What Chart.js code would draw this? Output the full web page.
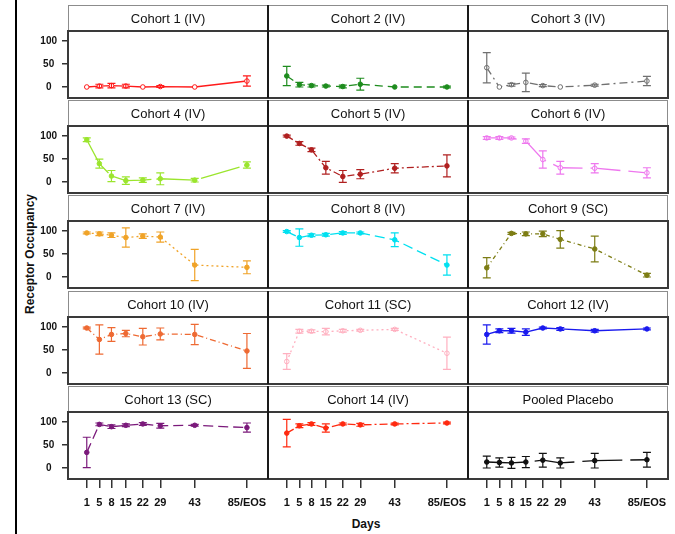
<!DOCTYPE html>
<html>
<head>
<meta charset="utf-8">
<script src="https://cdn.jsdelivr.net/npm/chart.js@4.4.1/dist/chart.umd.min.js"></script>
<style>
body { margin: 0; background: #fff; font-family: "Liberation Sans", Arial, sans-serif; }
#page { position: relative; width: 675px; height: 534px; overflow: hidden; }
.panel { position: absolute; }
.lbl { position: absolute; font-weight: bold; font-size: 12px; color: #111; text-align: center; white-space: nowrap; }
</style>
</head>
<body>
<div id="page">
  <div style="position:absolute;left:15px;top:0;width:2px;height:534px;background:#000"></div>
  <div class="lbl" style="left:-70px;top:247px;width:200px;transform:rotate(-90deg)">Receptor Occupancy</div>
  <div class="lbl" style="left:326px;top:517px;width:80px">Days</div>
</div>
<script>
// nominal study days, where each one sits on the axis, and its label
var dayLabels = ['1', '5', '8', '15', '22', '29', '43', '85/EOS'];
var dayPos = [1, 5.9, 10.6, 16.2, 22.8, 29.6, 43, 63.3];
var yTicks = [0, 50, 100];

var titles = ['Cohort 1 (IV)', 'Cohort 2 (IV)', 'Cohort 3 (IV)',
              'Cohort 4 (IV)', 'Cohort 5 (IV)', 'Cohort 6 (IV)',
              'Cohort 7 (IV)', 'Cohort 8 (IV)', 'Cohort 9 (SC)',
              'Cohort 10 (IV)', 'Cohort 11 (SC)', 'Cohort 12 (IV)',
              'Cohort 13 (SC)', 'Cohort 14 (IV)', 'Pooled Placebo'];

// mean receptor occupancy (%) per day
var means = [
  [0, 2, 3, 2, 0, 1, 0, 13],
  [24, 5, 3, 2, 1, 6, 0, 0],
  [42, 0, 5, 10, 3, 0, 4, 13],
  [92, 40, 13, 3, 4, 7, 4, 37],
  [100, 84, 70, 31, 12, 17, 30, 35],
  [96, 96, 96, 89, 49, 31, 30, 20],
  [96, 94, 91, 86, 89, 87, 26, 21],
  [99, 86, 91, 92, 96, 96, 81, 26],
  [20, null, 95, 94, 94, 82, 61, 4],
  [98, 73, 84, 86, 79, 85, 84, 48],
  [25, 91, 91, 90, 92, 93, 95, 43],
  [84, 92, 92, 89, 98, 96, 92, 96],
  [34, 95, 90, 93, 96, 92, 93, 88],
  [76, 92, 96, 87, 96, 94, 96, 98],
  [13, 12, 11, 13, 17, 11, 16, 18]
];
// error bar half widths
var errs = [
  [0, 4, 5, 4, 0, 2, 0, 11],
  [21, 5, 3, 2, 3, 13, 0, 2],
  [33, 0, 3, 20, 2, 0, 2, 10],
  [4, 10, 12, 8, 5, 13, 4, 7],
  [2, 4, 4, 14, 13, 10, 10, 24],
  [3, 3, 2, 5, 19, 14, 10, 11],
  [2, 4, 5, 21, 5, 11, 34, 14],
  [2, 19, 3, 3, 3, 2, 15, 22],
  [22, null, 2, 4, 6, 19, 28, 4],
  [2, 32, 15, 7, 18, 13, 22, 38],
  [17, 4, 3, 7, 3, 2, 2, 35],
  [21, 4, 5, 7, 2, 3, 3, 2],
  [33, 3, 4, 3, 3, 5, 2, 10],
  [30, 4, 3, 9, 2, 3, 2, 2],
  [13, 10, 12, 12, 15, 11, 16, 16]
];

var colors = ['#ff1a1a', '#1e8c1e', '#707070', '#9be52e', '#b02020', '#ee77ee', '#f0a328', '#00e0f0',
              '#7d7d14', '#ee6a33', '#ffb0c0', '#1a1aee', '#7b1a7b', '#ff2a10', '#111111'];
var dashes = [[], [8, 5], [8, 4, 2, 4], [40, 5], [7, 3, 2, 3], [30, 8], [2, 3], [10, 5],
              [4, 3, 1, 3], [6, 3, 1, 3], [2, 3], [], [10, 5], [8, 3, 2, 3], [40, 8]];
var openMarker = [true, false, true, false, false, true, false, false, false, false, true, false, false, false, false];

var rowTop = [5, 100, 195, 291, 386];
var tickFont = { family: '"Liberation Sans", Arial', weight: 'bold' };

var errorBars = {
    id: 'errorBars',
    afterDatasetsDraw: function (chart) {
        var ctx = chart.ctx;
        var ys = chart.scales.y;
        chart.data.datasets.forEach(function (ds, k) {
            var meta = chart.getDatasetMeta(k);
            ctx.save();
            ctx.strokeStyle = ds.borderColor;
            ctx.lineWidth = 1.2;
            meta.data.forEach(function (pt, j) {
                var d = ds.data[j];
                if (!d.e) return;
                var top = ys.getPixelForValue(d.y + d.e);
                var bot = ys.getPixelForValue(d.y - d.e);
                ctx.beginPath();
                ctx.moveTo(pt.x, top); ctx.lineTo(pt.x, bot);
                ctx.moveTo(pt.x - 4, top); ctx.lineTo(pt.x + 4, top);
                ctx.moveTo(pt.x - 4, bot); ctx.lineTo(pt.x + 4, bot);
                ctx.stroke();
            });
            ctx.restore();
        });
    }
};

var panelFrame = {
    id: 'panelFrame',
    beforeDraw: function (chart, args, opts) {
        var a = chart.chartArea, ctx = chart.ctx;
        ctx.save();
        ctx.strokeStyle = '#8c8c8c';
        ctx.lineWidth = 1;
        ctx.strokeRect(a.left + 0.5, 0.5, a.right - a.left - 1, a.top);
        ctx.fillStyle = '#111';
        ctx.font = '13px "Liberation Sans", Arial';
        ctx.textAlign = 'center';
        ctx.textBaseline = 'middle';
        ctx.fillText(opts.text, (a.left + a.right) / 2, a.top / 2 + 1);
        ctx.restore();
    },
    afterDraw: function (chart, args, opts) {
        var a = chart.chartArea, ctx = chart.ctx;
        ctx.save();
        ctx.strokeStyle = '#3a3a3a';
        ctx.lineWidth = 2;
        ctx.strokeRect(a.left, a.top, a.right - a.left, a.bottom - a.top);
        // column separators run through the strip too
        ctx.strokeStyle = '#1a1a1a';
        ctx.beginPath();
        if (opts.col > 0) { ctx.moveTo(a.left, 0); ctx.lineTo(a.left, a.bottom); }
        if (opts.col < 2) { ctx.moveTo(a.right, 0); ctx.lineTo(a.right, a.bottom); }
        ctx.stroke();
        ctx.restore();
    }
};

function fixHeight(s) { s.height = 48; s.paddingLeft = 0; s.paddingRight = 0; }
function fixWidth(s) { s.width = 68; s.paddingTop = 0; s.paddingBottom = 0; }

var page = document.getElementById('page');

for (var p = 0; p < 15; p++) {
    var r = Math.floor(p / 3), c = p % 3;
    var showX = r == 4, showY = c == 0;
    var left = c == 0 ? 0 : 68 + c * 200;
    var w = 200 + (showY ? 68 : 0) + (c == 2 ? 1 : 0);
    var h = 26 + 67 + (showX ? 48 : 1);

    var box = document.createElement('div');
    box.className = 'panel';
    box.style.left = left + 'px';
    box.style.top = rowTop[r] + 'px';
    box.style.width = w + 'px';
    box.style.height = h + 'px';
    var cv = document.createElement('canvas');
    box.appendChild(cv);
    page.appendChild(box);

    var pts = [];
    for (var i = 0; i < dayPos.length; i++) {
        if (means[p][i] == null) continue;
        pts.push({ x: dayPos[i], y: means[p][i], e: errs[p][i] });
    }

    new Chart(cv, {
        type: 'line',
        data: {
            datasets: [{
                data: pts,
                borderColor: colors[p],
                backgroundColor: colors[p],
                borderWidth: 1.3,
                borderDash: dashes[p],
                pointRadius: 2.3,
                pointBorderWidth: 1,
                pointBorderColor: colors[p],
                pointBackgroundColor: openMarker[p] ? '#fff' : colors[p],
                tension: 0
            }]
        },
        options: {
            responsive: true,
            maintainAspectRatio: false,
            animation: false,
            devicePixelRatio: 1,
            layout: {
                autoPadding: false,
                padding: { top: 26, left: 0, right: c == 2 ? 1 : 0, bottom: showX ? 0 : 1 }
            },
            plugins: {
                legend: { display: false },
                tooltip: { enabled: false },
                panelFrame: { text: titles[p], col: c }
            },
            scales: {
                x: {
                    type: 'linear',
                    min: -6.3,
                    max: 71.5,
                    display: showX,
                    afterFit: showX ? fixHeight : undefined,
                    afterBuildTicks: function (s) { s.ticks = dayPos.map(function (v) { return { value: v }; }); },
                    ticks: {
                        autoSkip: false,
                        maxRotation: 0,
                        padding: 8,
                        color: '#111',
                        font: Object.assign({ size: 11 }, tickFont),
                        callback: function (v, idx) { return dayLabels[idx]; }
                    },
                    grid: { drawOnChartArea: false, tickLength: 9, color: '#333', lineWidth: 1.5 },
                    border: { display: false }
                },
                y: {
                    min: -24,
                    max: 122,
                    display: showY,
                    afterFit: showY ? fixWidth : undefined,
                    afterBuildTicks: function (s) { s.ticks = yTicks.map(function (v) { return { value: v }; }); },
                    ticks: {
                        padding: 5,
                        crossAlign: 'center',
                        color: '#111',
                        font: Object.assign({ size: 10 }, tickFont)
                    },
                    grid: { drawOnChartArea: false, tickLength: 6, color: '#333', lineWidth: 1.5 },
                    border: { display: false }
                }
            }
        },
        plugins: [errorBars, panelFrame]
    });
}
</script>
</body>
</html>
